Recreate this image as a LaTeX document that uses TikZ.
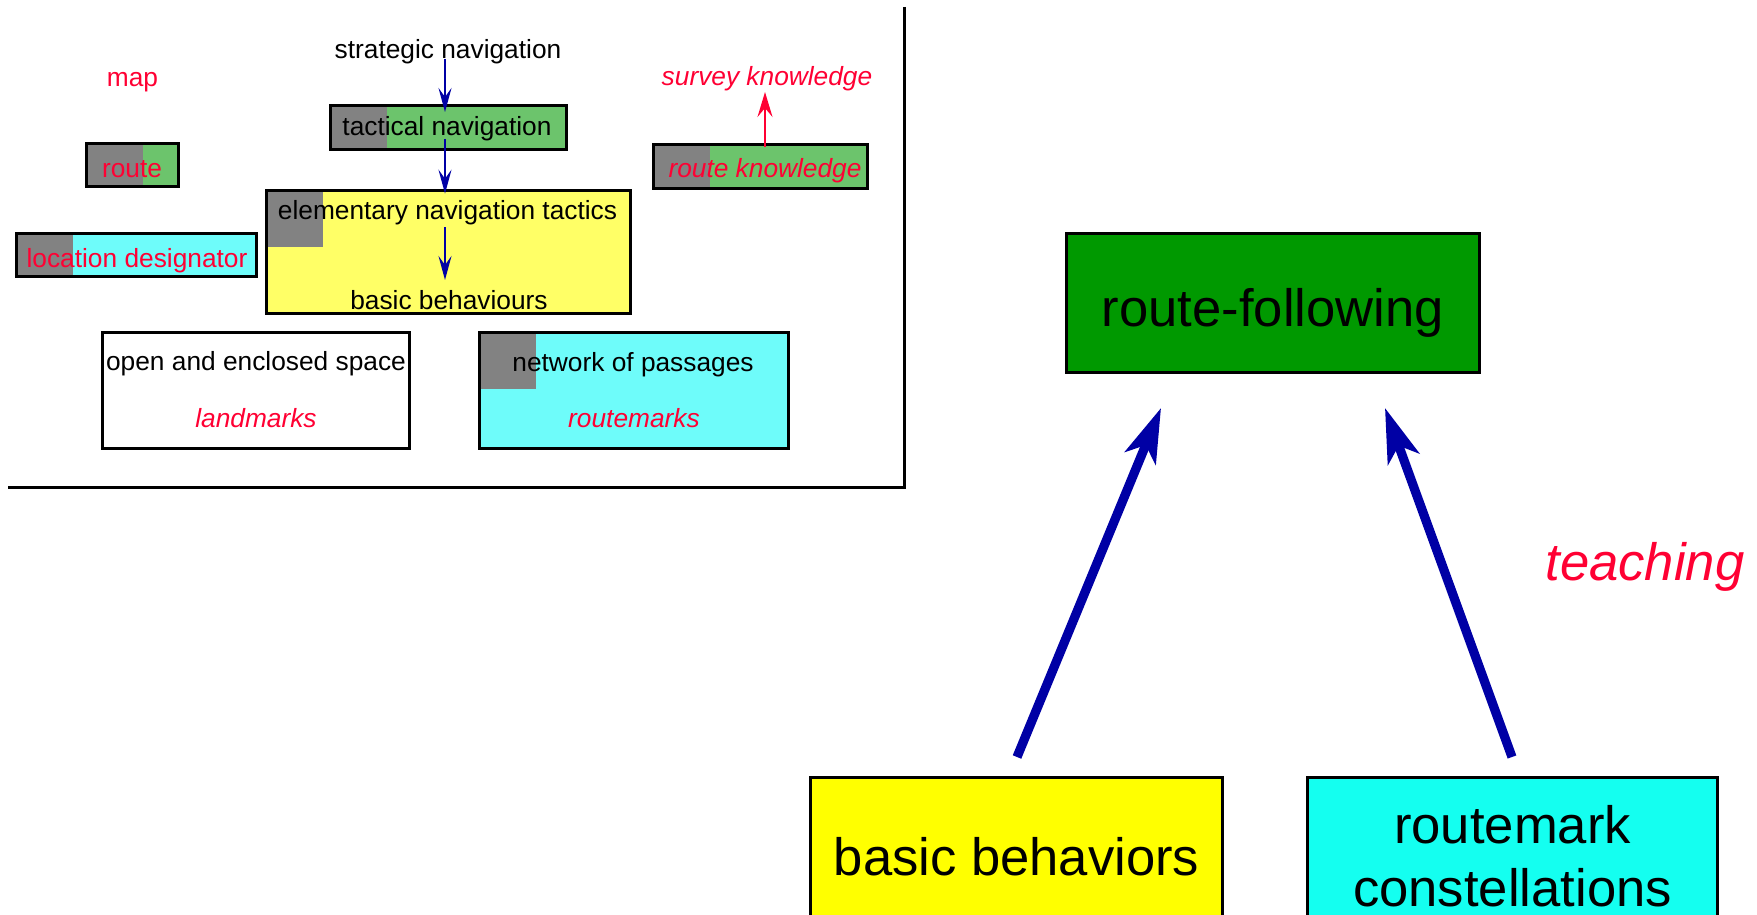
\documentclass[tikz,border=0pt]{standalone}
\usepackage{fontspec}
\setmainfont{Liberation Sans}
\usetikzlibrary{arrows.meta,calc}

\definecolor{navred}{RGB}{255,0,51}
\definecolor{navblue}{RGB}{0,0,165}
\definecolor{tilegray}{RGB}{130,130,130}
\definecolor{tilegreen}{RGB}{108,196,108}
\definecolor{tileyellow}{RGB}{255,255,102}
\definecolor{tilecyan}{RGB}{110,252,250}
\definecolor{deepgreen}{RGB}{0,153,0}
\definecolor{brightyellow}{RGB}{255,255,0}
\definecolor{brightcyan}{RGB}{20,255,240}

\tikzset{
  smalltxt/.style={font=\fontsize{26.3}{31}\selectfont, inner sep=0pt, anchor=base},
  smallit/.style={font=\fontsize{26.3}{31}\selectfont\itshape, inner sep=0pt, anchor=base, text=navred},
  bigtxt/.style={font=\fontsize{52.6}{62}\selectfont, inner sep=0pt, anchor=base},
  bigit/.style={font=\fontsize{52.6}{62}\selectfont\itshape, inner sep=0pt, anchor=base, text=navred},
  panelbox/.style={draw=black, line width=2.7pt, inner sep=0pt, outer sep=0pt},
  tiled/.style={panelbox, path picture={\fill[tilegray] (path picture bounding box.north west) rectangle ++(57pt,-57pt);}},
  bigbox/.style={draw=black, line width=3pt, inner sep=0pt, outer sep=0pt},
  navarrow/.style={draw=navblue, line width=2pt, -{Stealth[length=24pt, width=13pt, inset=9pt]}},
  knowarrow/.style={draw=navred, line width=2.2pt, -{Stealth[length=25pt, width=15pt, inset=9pt]}},
  buildarrow/.style={draw=navblue, line width=9.2pt, -{Stealth[length=54pt, width=33pt, inset=14pt]}},
  frameline/.style={draw=black, line width=3pt},
}

\begin{document}
\begin{tikzpicture}[x=1pt, y=-1pt]
\useasboundingbox (0,0) rectangle (1757,915);

% frame of the left panel
\draw[frameline] (904,7) -- (904,487) -- (8,487);

% ---------- left panel: boxes ----------
\node[tiled, fill=tilegreen, minimum width=236.3pt, minimum height=44.3pt] (tact) at (448.5,127.5) {};
\node[tiled, fill=tilegreen, minimum width=92.3pt, minimum height=43.3pt] (route) at (132.5,165) {};
\node[tiled, fill=tilecyan, minimum width=240.3pt, minimum height=43.3pt] (loc) at (136.5,255) {};
\node[tiled, fill=tilegreen, minimum width=214.3pt, minimum height=44.3pt] (rk) at (760.5,166.5) {};
\node[tiled, fill=tileyellow, minimum width=364.3pt, minimum height=123.3pt] (elem) at (448.5,252) {};
\node[panelbox, fill=white, minimum width=307.3pt, minimum height=116.3pt] (open) at (256,390.5) {};
\node[tiled, fill=tilecyan, minimum width=309.3pt, minimum height=116.3pt] (net) at (634,390.5) {};

% ---------- left panel: texts ----------
\node[smalltxt, text=navred] (map) at (132.5,87) {map};
\node[smalltxt] (strat) at (448,58.5) {strategic navigation};
\node[smalltxt] (tacttxt) at (447,136) {tactical navigation};
\node[smalltxt, text=navred] (routetxt) at (132,178) {route};
\node[smalltxt, text=navred] (loctxt) at (137,267.5) {location designator};
\node[smallit] (rktxt) at (765,178) {route knowledge};
\node[smallit] (survey) at (767,86) {survey knowledge};
\node[smalltxt] (elemtxt) at (447.5,219.5) {elementary navigation tactics};
\node[smalltxt] (behav) at (449,309) {basic behaviours};
\node[smalltxt] (opentxt) at (256,370.5) {open and enclosed space};
\node[smallit] (landmarks) at (256,427.5) {landmarks};
\node[smalltxt] (nettxt) at (633,371.5) {network of passages};
\node[smallit] (routemarks) at (634,427.5) {routemarks};

% ---------- left panel: connectors ----------
\coordinate (axis) at (445,0);
\coordinate (rkaxis) at (765,0);
\draw[navarrow] ($(strat.base -| axis)+(0,0.5)$) -- ($(tact.north -| axis)+(0,6.65)$);
\draw[navarrow] ($(tact.south -| axis)+(0,-10.65)$) -- ($(elem.north -| axis)+(0,3.35)$);
\draw[navarrow] ($(elemtxt.base -| axis)+(0,7.5)$) -- ($(behav.base -| axis)+(0,-29)$);
\draw[knowarrow] ($(rk.north -| rkaxis)+(0,2.65)$) -- ($(survey.base -| rkaxis)+(0,6)$);

% ---------- right part ----------
\node[bigbox, fill=deepgreen, minimum width=413pt, minimum height=139pt] (rf) at (1273,303) {};
\node[bigtxt] (rftxt) at (1273,326) {route-following};

\node[bigbox, fill=brightyellow, minimum width=412pt, minimum height=151pt] (bb) at (1016.5,853) {};
\node[bigtxt] (bbtxt) at (1016.5,875) {basic behaviors};

\node[bigbox, fill=brightcyan, minimum width=410pt, minimum height=151pt] (rc) at (1512.5,853) {};
\node[bigtxt] (rctxt1) at (1512.5,843) {routemark};
\node[bigtxt] (rctxt2) at (1512.5,906) {constellations};

\node[bigit] (teach) at (1645,580) {teaching};

\draw[buildarrow] ($(bb.north)+(0.5,-20.5)$) -- ($(rf.south)+(-112,35.5)$);
\draw[buildarrow] ($(rc.north)+(-0.5,-20.5)$) -- ($(rf.south)+(112,35.5)$);

\end{tikzpicture}
\end{document}
